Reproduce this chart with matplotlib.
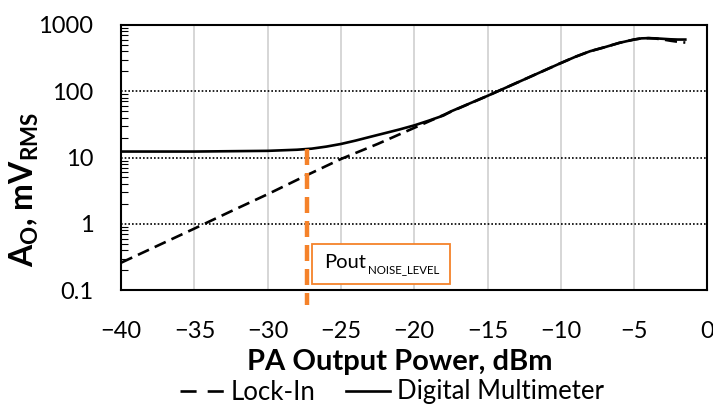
import matplotlib
matplotlib.use("Agg")
import matplotlib.pyplot as plt
from matplotlib.lines import Line2D
from matplotlib.patches import Rectangle
from matplotlib.transforms import offset_copy

plt.rcParams['font.family'] = ['Lato', 'DejaVu Sans']
plt.rcParams['mathtext.fontset'] = 'custom'
plt.rcParams['mathtext.rm'] = 'Lato'
plt.rcParams['mathtext.it'] = 'Lato:italic'
plt.rcParams['mathtext.bf'] = 'Lato:bold'

# Data
lockin_x = [-40, -37.5, -35, -32.5, -30, -27.5, -25, -22.5, -20, -17.5, -15, -12.5,
            -10, -9, -8, -7, -6, -5, -4.5, -4, -3.5, -3, -2.5, -2, -1.5]
lockin_y = [0.26, 0.47, 0.85, 1.55, 2.8, 5.2, 9.5, 16, 28, 49, 85, 150,
            265, 330, 400, 460, 535, 600, 625, 630, 620, 600, 575, 555, 540]

dmm_x = [-40, -35, -30, -28, -27, -26, -25, -24, -23, -22, -21, -20, -19, -18,
         -17.5, -15, -12.5, -10, -9, -8, -7, -6, -5, -4.5, -4, -3.5, -3, -2.5, -2, -1.5]
dmm_y = [12.3, 12.3, 12.6, 13.1, 13.6, 14.6, 16.0, 18.0, 20.5, 23.3, 26.5, 30.5, 36, 43,
         49.5, 85, 150, 265, 330, 400, 460, 535, 600, 625, 630, 625, 615, 605, 600, 600]

noise_level_x = -27.3
noise_level_y = 13.5

xticks = [-40, -35, -30, -25, -20, -15, -10, -5, 0]
xticklabels = ['\u221240', '\u221235', '\u221230', '\u221225', '\u221220', '\u221215', '\u221210', '\u22125', '0']
yticks = [0.1, 1, 10, 100, 1000]
yticklabels = ['0.1', '1', '10', '100', '1000']

fig = plt.figure(figsize=(7.13, 4.07), dpi=100)
ax = fig.add_axes([0.170, 0.287, 0.822, 0.652])

ax.set_yscale('log')
ax.set_xlim(-40, 0)
ax.set_ylim(0.1, 1000)

# grid
for xv in xticks[1:-1]:
    ax.axvline(xv, color='#d0d0d0', lw=1.2, zorder=0)
for yv in yticks[1:-1]:
    ax.axhline(yv, color='black', lw=1.2, ls=(0, (1, 1.2)), zorder=0)

ax.plot(lockin_x, lockin_y, color='black', lw=1.9, ls=(0, (4.6, 2.4)), zorder=3)
ax.plot(dmm_x, dmm_y, color='black', lw=1.9, zorder=3)

# orange noise level marker
ax.plot([noise_level_x, noise_level_x], [noise_level_y, 0.059], color='#F5822A', lw=3.2,
        ls=(0, (3.6, 1.8)), clip_on=False, zorder=4)

# annotation box
ax.add_patch(Rectangle((0.325, 0.024), 0.236, 0.15, transform=ax.transAxes,
                       fill=True, facecolor='white', edgecolor='#F5822A', lw=1.3, zorder=5))
t1 = ax.text(0.347, 0.085, 'Pout', transform=ax.transAxes,
             fontsize=14.5, va='baseline', ha='left', zorder=6)
fig.canvas.draw()
bb = t1.get_window_extent()
x_right, _ = ax.transAxes.inverted().transform((bb.x1, bb.y0))
ax.text(x_right + 0.002, 0.085, 'NOISE_LEVEL',
        transform=offset_copy(ax.transAxes, fig=fig, y=-4, units='points'),
        fontsize=8.3, va='baseline', ha='left', zorder=6)

ax.set_xticks(xticks)
ax.set_xticklabels(xticklabels)
ax.set_yticks(yticks)
ax.set_yticklabels(yticklabels)
ax.tick_params(axis='both', which='major', length=0, labelsize=17, pad=20)
ax.tick_params(axis='x', which='major', pad=22)
ax.tick_params(axis='y', which='minor', direction='in', length=5, width=0.8)
ax.tick_params(axis='x', which='minor', length=0)

for s in ax.spines.values():
    s.set_linewidth(1.5)

ax.set_xlabel('PA Output Power, dBm', fontsize=21, fontweight='bold', va='baseline')
ax.xaxis.set_label_coords(0.476, -0.302)
ax.set_ylabel('A$_\\mathbf{O}$, mV$_\\mathbf{RMS}$', fontsize=23, fontweight='bold')
ax.yaxis.set_label_coords(-0.137, 0.38)

handles = [Line2D([], [], color='black', lw=1.9, ls=(0, (6.1, 4.2))),
           Line2D([], [], color='black', lw=1.9)]
fig.legend(handles, ['Lock-In', 'Digital Multimeter'], loc='center',
           bbox_to_anchor=(392 / 713, 1 - 392 / 407), ncol=2, frameon=False, fontsize=18.5,
           handlelength=1.71, handletextpad=0.27, columnspacing=1.17,
           borderpad=0, borderaxespad=0)

fig.savefig('out.png', dpi=100)
